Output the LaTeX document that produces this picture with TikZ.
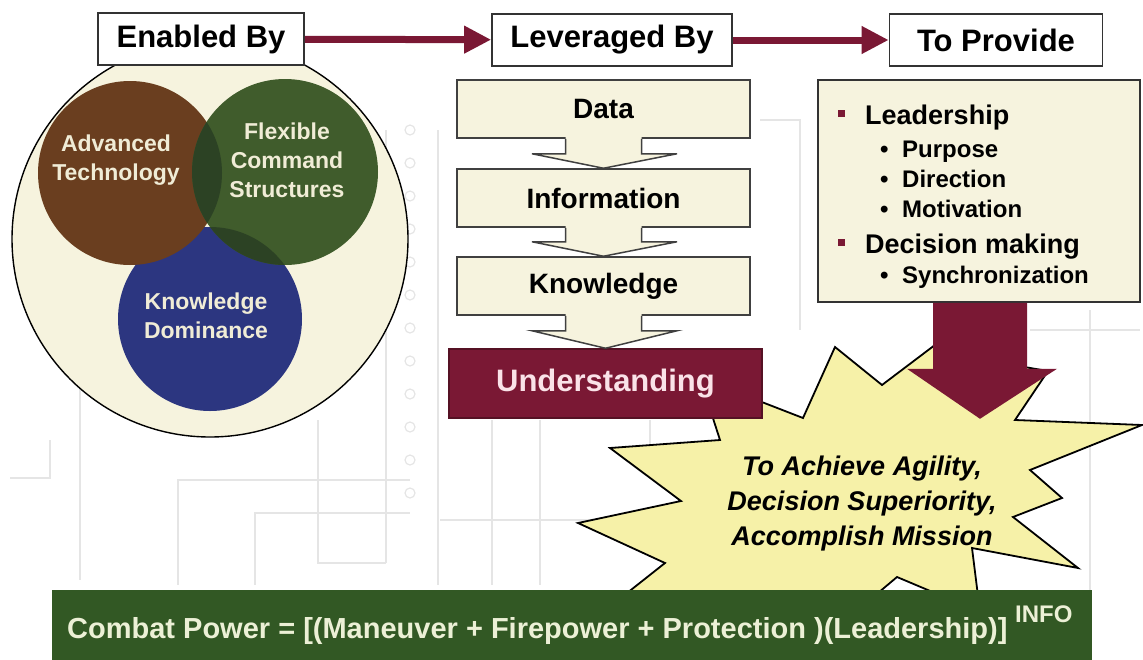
\documentclass[tikz,border=0pt]{standalone}
\usepackage{fontspec}
\setmainfont{Liberation Sans}
\usetikzlibrary{arrows.meta,calc}
\definecolor{maroon}{RGB}{122,24,52}
\definecolor{paper}{RGB}{246,243,222}
\definecolor{cream}{RGB}{240,236,214}
\definecolor{techbrown}{RGB}{106,62,31}
\definecolor{cmdgreen}{RGB}{64,92,44}
\definecolor{overgreen}{RGB}{44,66,36}
\definecolor{knowblue}{RGB}{44,54,128}
\definecolor{burst}{RGB}{246,241,168}
\definecolor{bargreen}{RGB}{50,88,36}
\definecolor{bartext}{RGB}{236,240,214}

\begin{document}
\begin{tikzpicture}[x=1pt,y=-1pt]
    \tikzstyle{every node}=[inner sep=0pt]
    \tikzstyle{grid}=[draw=black!10,line width=1.2pt]
    \tikzstyle{headbox}=[draw=black!80,fill=white,line width=1.6pt,minimum height=52pt,font=\fontsize{31}{33}\selectfont\bfseries]
    \tikzstyle{flow}=[draw=maroon,line width=7pt,-{Triangle[length=27pt,width=26pt]}]
    \tikzstyle{venntext}=[text=cream,align=center,font=\fontsize{23}{29}\selectfont\bfseries]
    \tikzstyle{stepbox}=[draw=black!75,fill=paper,line width=1.5pt,minimum width=293pt,minimum height=58pt,font=\fontsize{28}{30}\selectfont\bfseries]
    \tikzstyle{chev}=[draw=black!75,line width=1.5pt]
    \tikzstyle{item}=[anchor=base west,font=\fontsize{27}{29}\selectfont\bfseries]
    \tikzstyle{subitem}=[anchor=base west,font=\fontsize{24}{26}\selectfont\bfseries]
    \useasboundingbox (0,0) rectangle (1143,659);

    % faint circuit drawing behind
    \draw[grid] (80,110) -- (80,580);
    \draw[grid] (10,478) -- (50,478) -- (50,440);
    \draw[grid] (178,585) -- (178,480) -- (410,480);
    \draw[grid] (255,585) -- (255,513) -- (410,513);
    \draw[grid] (318,420) -- (318,563) -- (386,563);
    \draw[grid] (386,130) -- (386,563);
    \draw[grid] (438,130) -- (438,585);
    \draw[grid] (492,420) -- (492,585);
    \draw[grid] (540,420) -- (540,585);
    \draw[grid] (650,420) -- (650,470);
    \draw[grid] (440,520) -- (620,520);
    \draw[grid] (760,120) -- (800,120) -- (800,330);
    \draw[grid] (1090,310) -- (1090,590);
    \draw[grid] (1030,330) -- (1140,330);
    \foreach \y in {130,163,196,229,262,295,328,361,394,427,460,493}
        \draw[grid] (410,\y) circle (5);

    % burst
    \draw[fill=burst,line width=1.8pt,line join=miter] (700,378) -- (803,418) -- (835,347) -- (882,385)
        -- (960,326) -- (995,362) -- (1048,371) -- (1015,420) -- (1142,425) -- (1030,470)
        -- (1062,498) -- (1013,517) -- (1078,568) -- (972,548) -- (980,612) -- (897,577)
        -- (840,625) -- (740,605) -- (622,597) -- (665,563) -- (578,523) -- (681,501)
        -- (610,448) -- (720,440) -- cycle;
    \node[align=center,font=\fontsize{27}{35}\selectfont\bfseries\itshape] (goal) at (862,504)
        {To Achieve Agility,\\Decision Superiority,\\Accomplish Mission};

    % enablers
    \draw[fill=paper,line width=1.4pt] (210,239) circle (198);
    \fill[knowblue] (210,319) circle (92);
    \fill[techbrown] (130,173) circle (92);
    \fill[cmdgreen] (285,172) circle (93);
    \begin{scope}
        \clip (285,172) circle (93);
        \fill[overgreen] (130,173) circle (92);
        \fill[overgreen] (210,319) circle (92);
    \end{scope}
    \node[venntext] (tech) at (116,160) {Advanced\\Technology};
    \node[venntext] (cmd) at (287,160) {Flexible\\Command\\Structures};
    \node[venntext] (dom) at (206,316) {Knowledge\\Dominance};

    % headings
    \node[headbox,minimum width=206pt] (enab) at (201,39) {Enabled By};
    \node[headbox,minimum width=240pt] (lev) at (612,40) {Leveraged By};
    \node[headbox,minimum width=213pt] (prov) at (996,40) {To Provide};
    \draw[flow] (enab) -- (lev);
    \draw[flow] (lev) -- (prov);

    % data to understanding
    \node[stepbox] (data) at (603.5,109) {Data};
    \node[stepbox] (info) at (603.5,198) {Information};
    \node[stepbox] (know) at (603.5,286) {Knowledge};
    \node[stepbox,fill=maroon,draw=maroon!70!black,text={rgb,255:red,250;green,226;blue,232},
        minimum width=313pt,minimum height=69pt,font=\fontsize{31}{33}\selectfont\bfseries] (und) at (605.5,383.5) {Understanding};

    \fill[paper] ($(data.south)+(-38,-3)$) -- ($(data.south)+(-38,15)$) -- ($(data.south)+(-71.5,15)$) -- (info.north)
        -- ($(data.south)+(73.5,15)$) -- ($(data.south)+(38,15)$) -- ($(data.south)+(38,-3)$) -- cycle;
    \draw[chev] ($(data.south)+(-38,0)$) -- ++(0,15) -- ++(-33.5,0) -- (info.north) -- ($(data.south)+(73.5,15)$) -- ++(-35.5,0) -- ++(0,-15);
    \fill[paper] ($(info.south)+(-38,-3)$) -- ($(info.south)+(-38,14)$) -- ($(info.south)+(-71.5,14)$) -- (know.north)
        -- ($(info.south)+(73.5,14)$) -- ($(info.south)+(38,14)$) -- ($(info.south)+(38,-3)$) -- cycle;
    \draw[chev] ($(info.south)+(-38,0)$) -- ++(0,14) -- ++(-33.5,0) -- (know.north) -- ($(info.south)+(73.5,14)$) -- ++(-35.5,0) -- ++(0,-14);
    \fill[paper] ($(know.south)+(-38,-3)$) -- ($(know.south)+(-38,15)$) -- ($(know.south)+(-71.5,15)$) -- (und.north)
        -- ($(know.south)+(73.5,15)$) -- ($(know.south)+(38,15)$) -- ($(know.south)+(38,-3)$) -- cycle;
    \draw[chev] ($(know.south)+(-38,0)$) -- ++(0,15) -- ++(-33.5,0) -- (und.north) -- ($(know.south)+(73.5,15)$) -- ++(-35.5,0) -- ++(0,-15);

    % what it provides
    \node[draw=black!80,fill=paper,line width=1.6pt,minimum width=322pt,minimum height=222pt] (todo) at (979,191) {};
    \node[item] (lead) at (838,124) {\makebox[27pt][l]{\color{maroon}\rule[7pt]{7pt}{7pt}}Leadership};
    \node[subitem] (purp) at (880,157) {\makebox[22pt][l]{\textbullet}Purpose};
    \node[subitem] (dir) at (880,187) {\makebox[22pt][l]{\textbullet}Direction};
    \node[subitem] (mot) at (880,217) {\makebox[22pt][l]{\textbullet}Motivation};
    \node[item] (dec) at (838,253) {\makebox[27pt][l]{\color{maroon}\rule[7pt]{7pt}{7pt}}Decision making};
    \node[subitem] (sync) at (880,283) {\makebox[22pt][l]{\textbullet}Synchronization};
    \fill[maroon] ($(todo.south)+(-46,0)$) -- ($(todo.south)+(48,0)$) -- ++(0,66) -- ++(30,0)
        -- ($(todo.south)+(1,116)$) -- ($(todo.south)+(-72,66)$) -- ++(26,0) -- cycle;

    % combat power bar
    \node[fill=bargreen,minimum width=1040pt,minimum height=72pt] (bar) at (572,626) {};
    \node[anchor=base west,text=bartext,font=\fontsize{29}{31}\selectfont\bfseries] (eqn) at (67,638)
        {Combat Power = [(Maneuver + Firepower + Protection )(Leadership)]};
    \node[anchor=base west,text=bartext,font=\fontsize{24}{26}\selectfont\bfseries] (sup) at (1015,622) {INFO};
\end{tikzpicture}
\end{document}
